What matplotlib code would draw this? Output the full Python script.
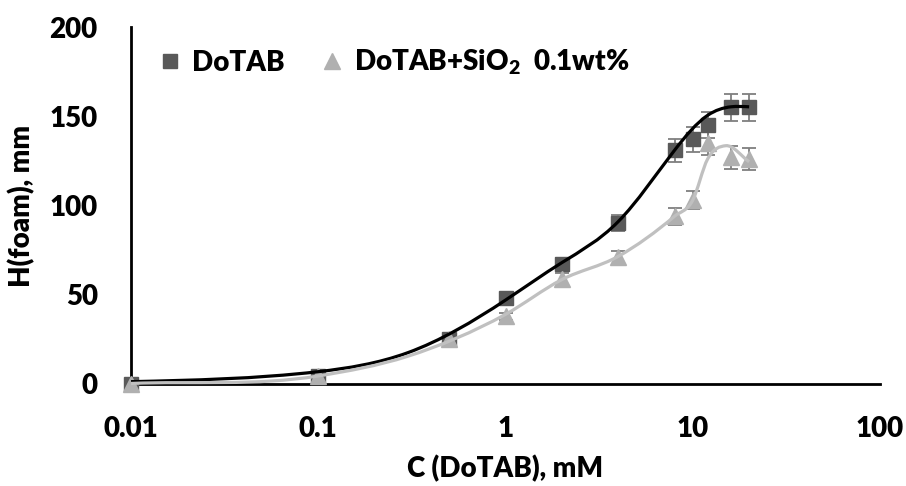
import numpy as np
import matplotlib
matplotlib.use("Agg")
import matplotlib.pyplot as plt
from matplotlib.path import Path
from matplotlib.patches import PathPatch
from matplotlib.lines import Line2D

plt.rcParams['font.family'] = ['Lato', 'DejaVu Sans']
plt.rcParams['font.weight'] = 'bold'
plt.rcParams['mathtext.fontset'] = 'custom'
plt.rcParams['mathtext.rm'] = 'Lato:heavy'
plt.rcParams['mathtext.it'] = 'Lato:heavy'
plt.rcParams['mathtext.bf'] = 'Lato:heavy'

# --- data ---
conc = [0.01, 0.1, 0.5, 1, 2, 4, 8, 10, 12, 16, 20]
h_dotab = [0, 4.5, 25, 48, 67, 90, 131, 137, 145, 155, 155]
err_dotab = [0, 0.2, 1.2, 2.4, 3.4, 4.5, 6.5, 6.8, 7.2, 7.7, 7.7]
h_sio2 = [0, 4.5, 25, 38, 59, 71, 94, 103, 135, 127, 126]
err_sio2 = [0, 0.2, 1.2, 1.9, 3.0, 3.6, 4.7, 5.2, 6.7, 6.3, 6.3]

# smoothed trend curves (knots)
fit_x_black = [0.01, 0.1, 0.3, 1, 2, 4, 8, 12, 16, 20]
fit_y_black = [1.3, 6.9, 17.5, 47, 68, 91, 131, 150.5, 155.3, 155.3]
fit_x_gray = [0.01, 0.1, 0.3, 1, 2, 4, 8, 10, 12, 15, 20]
fit_y_gray = [0.3, 4.5, 15.5, 39, 58.5, 71.5, 94, 103, 126, 133.5, 124.5]

xticks = [0.01, 0.1, 1, 10, 100]
xtick_labels = ['0.01', '0.1', '1', '10', '100']
yticks = [0, 50, 100, 150, 200]

c_square = '#595959'
c_tri = '#b0b0b0'
c_err = '#7f7f7f'
FS = 20


def bezier_from_slopes(lx, y, m0, m1):
    h = np.diff(lx)
    verts = [(lx[0], y[0])]
    codes = [Path.MOVETO]
    for i in range(len(h)):
        c1 = (lx[i] + h[i] / 3, y[i] + m0[i] * h[i] / 3)
        c2 = (lx[i + 1] - h[i] / 3, y[i + 1] - m1[i] * h[i] / 3)
        verts += [c1, c2, (lx[i + 1], y[i + 1])]
        codes += [Path.CURVE4] * 3
    V = np.array(verts)
    V[:, 0] = 10 ** V[:, 0]
    return Path(V, codes)


def spline_path(xs, ys):
    """Natural cubic spline (C2) through knots in log-x space, as Beziers."""
    lx = np.log10(np.asarray(xs, float))
    y = np.asarray(ys, float)
    n = len(lx)
    h = np.diff(lx)
    d = np.diff(y) / h
    A = np.zeros((n, n))
    r = np.zeros(n)
    A[0, 0] = A[-1, -1] = 1.0
    for i in range(1, n - 1):
        A[i, i - 1] = h[i - 1]
        A[i, i] = 2 * (h[i - 1] + h[i])
        A[i, i + 1] = h[i]
        r[i] = 6 * (d[i] - d[i - 1])
    M = np.linalg.solve(A, r)
    m0 = d - h * (2 * M[:-1] + M[1:]) / 6
    m1 = d + h * (M[:-1] + 2 * M[1:]) / 6
    return bezier_from_slopes(lx, y, m0, m1)


def hermite_path(xs, ys):
    lx = np.log10(np.asarray(xs, float))
    y = np.asarray(ys, float)
    n = len(lx)
    h = np.diff(lx)
    d = np.diff(y) / h
    m = np.empty(n)
    m[0] = d[0]
    m[-1] = d[-1]
    for i in range(1, n - 1):
        m[i] = (h[i] * d[i - 1] + h[i - 1] * d[i]) / (h[i - 1] + h[i])
    return bezier_from_slopes(lx, y, m[:-1], m[1:])


fig = plt.figure(figsize=(9.06, 4.86), dpi=100)
ax = fig.add_axes([0.1446, 0.2099, 0.9713 - 0.1446, 0.9444 - 0.2099])
ax.set_xscale('log')
ax.set_xlim(0.01, 100)
ax.set_ylim(0, 200)

ax.errorbar(conc, h_dotab, yerr=err_dotab, fmt='none', ecolor=c_err,
            elinewidth=1.3, capsize=5, capthick=1.3, zorder=2, clip_on=False)
ax.errorbar(conc, h_sio2, yerr=err_sio2, fmt='none', ecolor=c_err,
            elinewidth=1.3, capsize=5, capthick=1.3, zorder=2, clip_on=False)

ax.plot(conc, h_dotab, linestyle='none', marker='s', markersize=10,
        color=c_square, zorder=3, clip_on=False)
ax.plot(conc, h_sio2, linestyle='none', marker='^', markersize=11,
        color=c_tri, zorder=4, clip_on=False)

ax.add_patch(PathPatch(spline_path(fit_x_black, fit_y_black), facecolor='none',
                       edgecolor='black', lw=2.3, zorder=5, clip_on=False))
ax.add_patch(PathPatch(hermite_path(fit_x_gray, fit_y_gray), facecolor='none',
                       edgecolor='#c0c0c0', lw=2.3, zorder=5, clip_on=False))

for s in ['top', 'right']:
    ax.spines[s].set_visible(False)
for s in ['left', 'bottom']:
    ax.spines[s].set_linewidth(2)
    ax.spines[s].set_color('black')

ax.set_xticks(xticks)
ax.set_xticklabels(xtick_labels)
ax.xaxis.set_minor_locator(matplotlib.ticker.NullLocator())
ax.set_yticks(yticks)
ax.tick_params(axis='both', length=0, labelsize=FS)
ax.tick_params(axis='x', pad=23)
ax.tick_params(axis='y', pad=24)
for t in ax.get_xticklabels() + ax.get_yticklabels():
    t.set_fontweight('heavy')

ax.set_xlabel('C (DoTAB), mM', fontsize=FS, fontweight='heavy', labelpad=9)
ax.set_ylabel('H(foam), mm', fontsize=FS, fontweight='heavy', labelpad=10)

handles = [Line2D([], [], linestyle='none', marker='s', markersize=10, color=c_square),
           Line2D([], [], linestyle='none', marker='^', markersize=11, color=c_tri)]
labels = ['DoTAB', 'DoTAB+SiO$_2$  0.1wt%']
ax.legend(handles, labels, loc='upper left', bbox_to_anchor=(0.0, 1.012), ncol=2,
          frameon=False, handletextpad=0.3, columnspacing=1.2,
          handlelength=1.0, prop={'weight': 'heavy', 'size': FS})

fig.savefig('out.png', dpi=100)
